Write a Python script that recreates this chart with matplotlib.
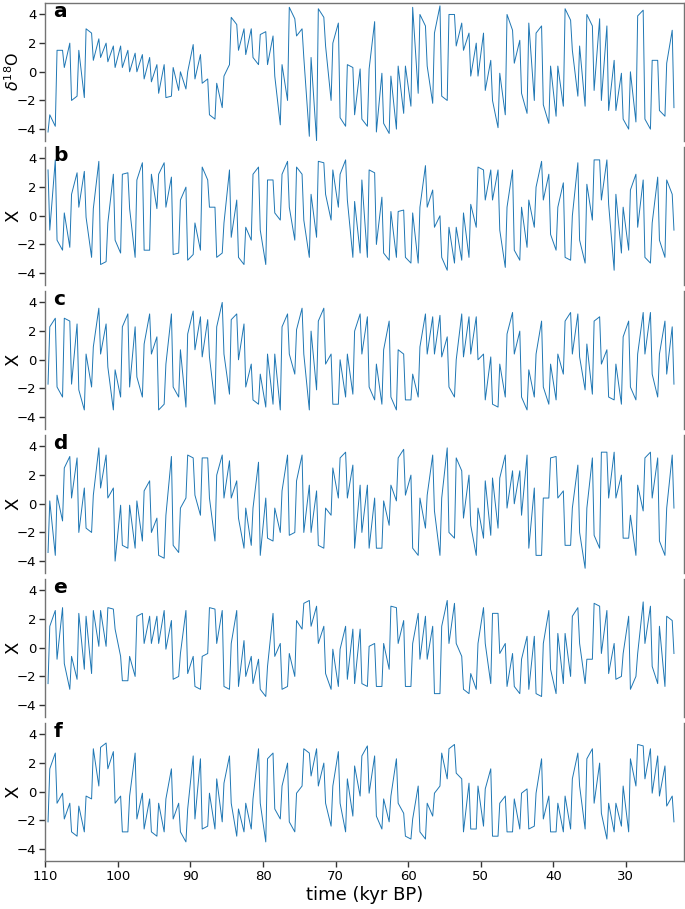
import numpy as np
import matplotlib
matplotlib.use("Agg")
import matplotlib.pyplot as plt

# bins of 1 kyr from 110 to 23 kyr BP; for each bin the highest and lowest
# value (the line visits both inside the bin)
bin_start = np.arange(110, 23, -1)

a_hi = [-3.0, 1.5, 1.5, 2.0, 1.5, 3.0, 2.7, 2.3, 2.0, 1.8,
        1.8, 1.5, 1.3, 1.2, 1.0, 0.5, 0.5, 0.3, 0.0, 0.0,
        1.9, 1.2, -0.5, -0.8, -0.3, 3.8, 3.3, 3.0, 3.0, 2.6,
        2.8, 2.5, 0.5, 4.5, 3.7, 3.0, 1.0, 4.4, 3.8, 2.0,
        3.4, 0.5, 0.3, 0.2,
        0.2, 3.5, -0.1, -0.3, 0.4, 0.4, 4.5, 4.0, 3.2, 2.7,
        4.6, 4.0, 4.0, 3.4, 2.7, 2.0, 2.7, 0.8, -0.1, 4.0,
        2.9, 2.2, 3.4, 2.7, 3.2, 0.4, 0.4, 4.4, 3.6, 1.8,
        4.0, 3.2, 3.7, 3.2, 0.8, -0.1, 0.0, 3.9, 4.3, 0.8,
        0.8, 0.6, 2.9]
a_lo = [-4.2, -3.8, 0.3, -2.0, -1.7, -1.8, 0.8, 1.0, 0.7, 0.3,
        0.3, 0.0, 0.0, -0.5, -0.7, -1.5, -1.8, -1.7, -1.3, -1.2,
        -0.5, -0.8, -3.0, -3.3, -2.5, 0.5, 1.5, 1.2, 1.0, 0.5,
        0.5, -0.3, -3.7, -2.0, 2.5, 1.0, -4.5, -4.8, 1.8, -2.0,
        -3.2, -3.8, -3.0, -3.3,
        -3.8, -4.2, -3.6, -4.3, -4.0, -2.9, -2.4, -1.5, 0.4, -2.2,
        -1.7, -2.0, 1.8, 1.5, -0.3, -0.3, -1.3, -2.0, -3.9, -3.0,
        0.6, -1.5, -2.9, -2.0, -2.3, -3.6, -3.1, -2.4, 1.5, -1.7,
        -2.4, -1.3, -2.0, -2.7, -2.7, -3.3, -4.0, -3.5, -3.3, -4.0,
        -2.7, -3.1, -2.5]

b_hi = [3.2, 3.9, 0.2, 1.5, 3.0, 3.1, 0.5, 3.8, -0.5, 2.9,
        2.9, 3.0, 2.5, 3.7, 2.9, 2.9, 3.7, 2.7, 1.1, 2.0,
        -0.5, 3.4, 2.5, 0.6, -0.5, 3.2, 1.1, -0.8, 2.9, 3.4,
        2.5, 2.5, 2.9, 3.8, 3.4, 2.9, 1.5, 3.8, 3.7, 3.2,
        2.9, 3.9, 1.0, 2.5,
        3.2, 3.0, 1.3, 0.3, 0.3, 0.4, 0.2, 0.6, 3.5, 1.8,
        0.0, -0.8, -0.8, 0.2, 0.8, 3.4, 3.2, 3.2, 3.2, 0.6,
        3.2, 0.6, 1.1, 2.0, 3.8, 2.9, 0.6, 2.3, 0.0, 3.7,
        2.2, 3.9, 3.9, 3.9, 1.5, 0.6, 1.8, 2.9, 2.5, -0.5,
        2.7, 2.5, 1.5]
b_lo = [-1.0, -1.7, -2.4, -2.2, 0.6, -0.1, -2.9, -3.4, -3.2, -1.7,
        -2.6, 0.5, -2.9, -2.4, -2.4, 0.5, 0.6, -2.7, -2.6, -3.1,
        -2.7, -2.4, 0.6, -2.9, -2.6, -1.5, -2.9, -3.4, -1.7, -1.0,
        -3.4, 0.2, -0.3, 0.6, -1.7, -0.3, -2.9, -1.5, 1.5, -0.3,
        0.6, 1.1, -2.9, -2.6,
        -2.9, -2.0, -2.6, -3.1, -2.9, -2.9, -3.3, -3.3, 0.6, -0.8,
        -2.9, -3.8, -3.3, -3.1, -2.9, -0.8, 1.1, 1.1, -1.0, -3.6,
        -2.4, -3.1, -2.2, -0.8, 1.1, -1.3, -2.4, -2.9, -3.1, -1.7,
        -3.3, -0.3, 1.1, 0.8, -3.8, -2.6, -2.4, -0.8, -2.9, -3.3,
        -1.7, -2.9, -1.0]

c_hi = [2.3, 2.9, 2.9, 2.7, 2.5, 0.4, 0.9, 3.6, 2.5, -0.7,
        2.3, 3.2, 2.3, 1.1, 3.2, 1.6, -0.3, 3.2, 0.7, 1.8,
        3.4, 3.0, 2.8, 2.3, 4.0, 2.8, 3.2, 2.5, -0.3, -1.0,
        0.4, 0.4, 2.3, 3.2, 2.1, 3.6, 2.0, 2.7, 3.6, 0.4,
        0.0, 0.4, 2.0, 3.2,
        3.0, -0.3, 0.7, 2.7, 0.7, 0.4, -1.0, 0.9, 3.2, 3.0,
        3.1, 1.6, 0.0, 3.2, 3.0, 3.0, 0.4, 0.2, -0.3, 1.8,
        3.3, 2.0, -0.7, 0.4, 2.7, -0.3, 0.4, 2.7, 3.3, 3.2,
        1.1, 2.7, 3.0, 0.7, -0.3, 1.6, 2.7, 0.4, 3.3, 3.3,
        0.4, 2.7, 2.3]
c_lo = [-1.7, -1.9, -2.6, -1.7, -2.1, -3.5, -1.9, 0.4, -0.5, -3.5,
        -2.6, -1.9, -1.2, -2.6, 0.4, -3.5, -3.1, -1.9, -2.6, -3.3,
        0.7, 0.2, 0.2, -3.1, 0.4, -2.4, 0.0, -1.9, -2.8, -3.1,
        -3.3, -3.1, -3.5, 0.4, -1.0, 0.4, -3.5, -2.1, -0.3, -3.1,
        -3.1, -2.6, -2.4, 0.4,
        -1.9, -2.8, -3.1, -2.6, -3.5, -2.8, -2.8, -2.6, 0.4, 0.4,
        0.2, -1.9, -2.6, 0.2, 0.4, 0.0, -2.8, -3.1, -3.3, -2.6,
        0.4, -2.6, -3.5, -2.6, -1.9, -3.1, -2.8, -1.0, 0.4, 0.2,
        -2.1, -2.4, -0.3, -2.6, -2.8, -3.1, -1.9, -2.8, 0.4, -1.0,
        -2.6, -1.0, -1.7]

d_hi = [0.2, 0.6, 2.5, 3.3, 3.2, 1.1, 0.6, 3.9, 3.4, 1.1,
        -0.1, -0.1, 0.2, 0.9, 1.6, -1.0, -0.8, 3.3, -0.3, 3.4,
        3.2, 3.2, 3.2, 2.0, 3.4, 3.0, 1.6, -0.3, -0.3, 2.9,
        0.4, -0.3, 0.9, 3.4, 1.6, 3.4, 1.3, 0.9, -0.3, 2.5,
        3.2, 3.6, 2.7, 1.3,
        1.3, 0.4, 0.2, 1.3, 3.2, 3.8, 2.0, 0.4, 0.6, 3.4,
        0.4, 3.9, 3.2, 2.3, 2.0, -0.3, 1.6, 1.8, 1.8, 3.4,
        2.3, 2.3, 3.4, 1.1, 0.4, 3.2, 3.3, 0.9, -0.3, 2.7,
        -0.3, 3.2, 3.6, 3.6, 3.6, 2.0, -0.8, 1.3, 3.2, 3.6,
        3.2, -0.3, 3.4]
d_lo = [-3.4, -3.6, -1.2, 0.4, -2.0, -1.7, -2.0, 1.1, 0.4, -4.0,
        -2.9, -3.1, -3.1, -2.6, -2.0, -3.6, -3.8, -2.9, -3.4, 0.4,
        0.6, -0.8, 0.4, -2.6, 0.4, 0.4, -1.0, -3.1, -2.9, -3.6,
        -2.4, -2.6, -2.0, -2.2, -2.0, -2.0, -2.0, -2.9, -3.1, -0.8,
        0.4, 0.4, -3.1, -2.0,
        -3.1, -3.1, -3.1, -1.5, 0.2, 0.6, -3.1, -3.6, -1.7, -0.5,
        -3.6, -2.0, -2.4, -1.0, -1.5, -3.6, -2.4, -2.2, -1.7, -0.3,
        0.0, -0.8, -3.1, -3.6, -3.6, 0.4, 0.4, -2.9, -2.9, -2.0,
        -4.5, -2.2, -3.1, 0.4, 0.4, -2.4, -2.4, -3.6, -0.5, 0.4,
        -2.6, -3.6, -0.3]

e_hi = [1.5, 2.6, 2.8, -0.6, 2.4, 2.2, 2.6, 2.6, 2.8, 2.7,
        -0.6, -0.6, 2.2, 2.4, 2.2, 2.2, 2.6, 1.9, -0.4, 2.6,
        -0.6, -0.6, 2.8, 2.7, 2.6, 0.3, 2.6, 0.5, -0.6, -0.8,
        -1.3, 2.4, 0.3, -0.4, 1.9, 3.1, 3.3, 2.9, 1.5, -0.1,
        -0.1, 1.5, 1.3, 1.3,
        0.1, 0.3, 0.3, 2.9, 2.8, 1.9, 0.3, 2.4, 2.2, 1.5,
        1.5, 3.3, 3.1, -0.6, -1.8, 0.3, 2.8, 2.4, 2.4, 0.3,
        -0.4, -0.8, 0.8, 0.8, 0.3, 2.6, 1.0, 1.0, 2.2, 2.8,
        -0.8, 3.1, 2.9, 2.6, 0.3, -0.4, 2.2, -0.4, 3.2, 2.9,
        1.5, 2.2, 1.9]
e_lo = [-2.5, -0.8, -1.1, -2.9, -2.2, -1.5, -1.8, 0.1, 0.1, 1.3,
        -2.3, -2.3, -2.0, 0.3, 0.3, 0.3, -0.1, -2.2, -2.0, -1.8,
        -2.7, -2.9, -0.4, 0.3, -2.7, -2.9, -2.7, -2.0, -2.5, -2.9,
        -3.4, -0.6, -2.9, -2.7, -2.0, 1.3, 1.5, 0.3, -1.8, -2.9,
        -2.7, -2.2, -2.5, -2.5,
        -2.7, -2.7, -2.7, -1.5, 0.3, -2.7, -2.7, -0.8, -0.8, -3.2,
        -3.2, 0.3, 0.3, -2.9, -3.2, -2.9, 0.3, -2.5, -0.4, -2.7,
        -2.7, -3.2, -2.9, -3.2, -3.4, -1.5, -3.2, -2.5, -2.0, 0.3,
        -2.5, -0.8, -0.4, -1.8, -2.2, -2.0, -2.9, -2.0, 0.3, -1.3,
        -2.5, -2.7, -0.4]

f_hi = [1.6, 2.7, -0.1, -0.8, -1.0, -0.3, 3.0, 3.1, 3.4, 2.8,
        -0.3, -0.3, 2.7, -0.1, -0.5, -0.8, -0.5, 1.6, -0.8, -1.2,
        2.5, 2.3, -0.1, 0.9, 0.6, 2.5, -1.2, -0.8, -0.5, 3.0,
        2.3, 2.7, 0.4, 2.0, -0.1, 3.0, 2.7, 3.0, 2.0, 0.4,
        2.8, 0.9, 1.8, 2.5,
        3.2, 2.5, -0.5, -0.3, 2.3, -1.5, -1.9, 0.4, -0.8, -0.1,
        2.7, 3.0, 3.3, 0.9, 0.6, 0.4, 0.2, 1.6, -0.8, -0.3,
        -0.5, -0.1, 0.2, -0.1, 2.3, -0.3, -0.8, -0.3, 0.9, 2.7,
        2.3, 3.0, 2.0, -0.8, -0.8, 0.4, 2.3, 3.3, 3.2, 3.0,
        2.5, 1.8, -0.3]
f_lo = [-2.1, -0.8, -1.9, -2.8, -3.1, -2.8, -0.5, 0.4, 1.6, -0.8,
        -2.8, -2.8, -1.9, -2.6, -2.8, -3.1, -2.8, -1.9, -2.8, -3.5,
        -1.9, -2.6, -2.4, -2.6, -2.1, -0.8, -3.1, -2.8, -2.6, -0.8,
        -3.5, -1.2, -1.9, -2.1, -2.8, 0.4, 1.1, 0.4, -0.8, -2.4,
        -0.8, -2.8, -1.7, -0.3,
        -0.1, -1.7, -2.6, -2.1, -0.8, -3.1, -3.3, -2.8, -3.3, -1.7,
        0.4, 0.9, 1.3, -2.8, -2.6, -2.6, -2.4, -3.1, -3.1, -2.8,
        -2.8, -2.6, -2.6, -2.4, -1.9, -2.8, -2.8, -2.8, -2.6, 0.4,
        -2.6, -0.8, -1.5, -3.3, -2.8, -2.4, -2.8, 0.4, 0.9, -0.1,
        -0.3, -1.0, -2.1]

panels = [("a", a_hi, a_lo, r"$\delta^{18}$O", 11.5),
          ("b", b_hi, b_lo, "X", 13),
          ("c", c_hi, c_lo, "X", 13),
          ("d", d_hi, d_lo, "X", 13),
          ("e", e_hi, e_lo, "X", 13),
          ("f", f_hi, f_lo, "X", 13)]


def envelope_line(hi, lo):
    # walk through each bin visiting its min and max
    ts, vs = [], []
    n = len(hi)
    for k in range(n):
        t0 = bin_start[k]
        going_up = k + 1 < n and (hi[k + 1] + lo[k + 1]) > (hi[k] + lo[k])
        first, second = (lo[k], hi[k]) if going_up else (hi[k], lo[k])
        ts += [t0 - 0.38, t0 - 0.62]
        vs += [first, second]
    return ts, vs


fig, axes = plt.subplots(6, 1, figsize=(6.85, 9.09), dpi=100, sharex=True)
plt.subplots_adjust(left=0.0661, right=0.9985, top=0.9967, bottom=0.0533,
                    hspace=0.0465)

spine_col = "0.45"
for i, (ax, (letter, hi, lo, ylab, ysize)) in enumerate(zip(axes, panels)):
    ts, vs = envelope_line(hi, lo)
    ax.plot(ts, vs, color="#1f77b4", lw=0.7)
    ax.set_xlim(110, 22)
    ax.set_ylim(-4.8, 4.8)
    ax.set_yticks([-4, -2, 0, 2, 4])
    ax.set_ylabel(ylab, fontsize=ysize)
    ax.yaxis.set_label_coords(-0.036, 0.5)
    ax.text(108.9, 3.8, letter, fontsize=14.5, fontweight="bold",
            va="baseline", ha="left")
    for side in ["left", "right", "top", "bottom"]:
        ax.spines[side].set_color(spine_col)
        ax.spines[side].set_linewidth(1.0)
    ax.spines["top"].set_visible(i == 0)
    ax.spines["bottom"].set_visible(i == 5)
    ax.tick_params(axis="y", labelsize=9.5, length=4, width=1,
                   color="0.2", pad=2.5)
    ax.tick_params(axis="x", labelsize=9.5, length=4, width=1,
                   color="0.2", pad=3, bottom=(i == 5))
    ax.patch.set_alpha(0)

axes[-1].set_xticks([110, 100, 90, 80, 70, 60, 50, 40, 30])
axes[-1].set_xlabel("time (kyr BP)", fontsize=13, labelpad=2)

fig.savefig("out.png", dpi=100)
